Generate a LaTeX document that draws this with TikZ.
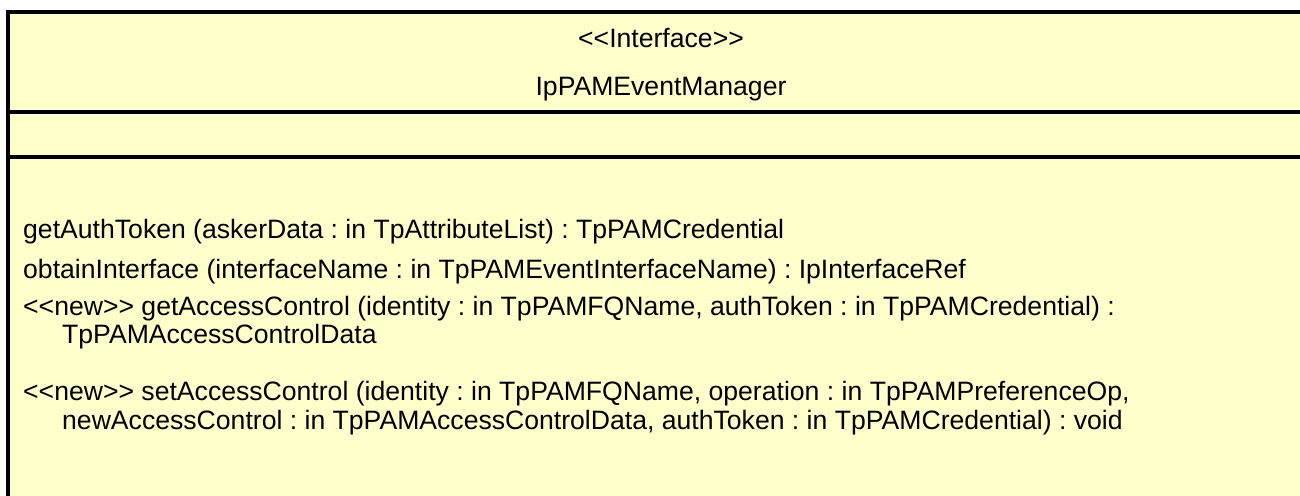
\documentclass[tikz,border=0pt]{standalone}
\usepackage{fontspec}
\setmainfont{Liberation Sans}
\definecolor{umlfill}{RGB}{255,255,204}
\begin{document}
\frenchspacing
\begin{tikzpicture}[x=1pt,y=-1pt,
  txt/.style={inner sep=0pt,font=\fontsize{26.6}{30}\selectfont\frenchspacing},
  op/.style={txt,anchor=base west},
  hd/.style={txt,anchor=base},
  frame/.style={draw=black,line width=4pt}]
\useasboundingbox (0,0) rectangle (1300,495);
\begin{scope}
\clip (0,0) rectangle (1300,495);
\draw[frame,fill=umlfill] (8,12) rectangle (1314,540);
\draw[frame] (8,112) -- (1314,112);
\draw[frame] (8,157) -- (1314,157);
\end{scope}
\node[hd] (stereo) at (661,48) {<{}<Interface>{}>};
\node[hd] (name) at (661,95) {IpPAMEventManager};
\node[op] (op1) at (23,238) {getAuthToken (askerData : in TpAttributeList) : TpPAMCredential};
\node[op] (op2) at (23,278) {obtainInterface (interfaceName : in TpPAMEventInterfaceName) : IpInterfaceRef};
\node[op] (op3) at (23,315) {<{}<new>{}> getAccessControl (identity : in TpPAMFQName, authToken : in TpPAMCredential) :};
\node[op] (op3b) at (62,343) {TpPAMAccessControlData};
\node[op] (op4) at (23,400) {<{}<new>{}> setAccessControl (identity : in TpPAMFQName, operation : in TpPAMPreferenceOp,};
\node[op] (op4b) at (62,429) {newAccessControl : in TpPAMAccessControlData, authToken : in TpPAMCredential) : void};
\end{tikzpicture}
\end{document}
